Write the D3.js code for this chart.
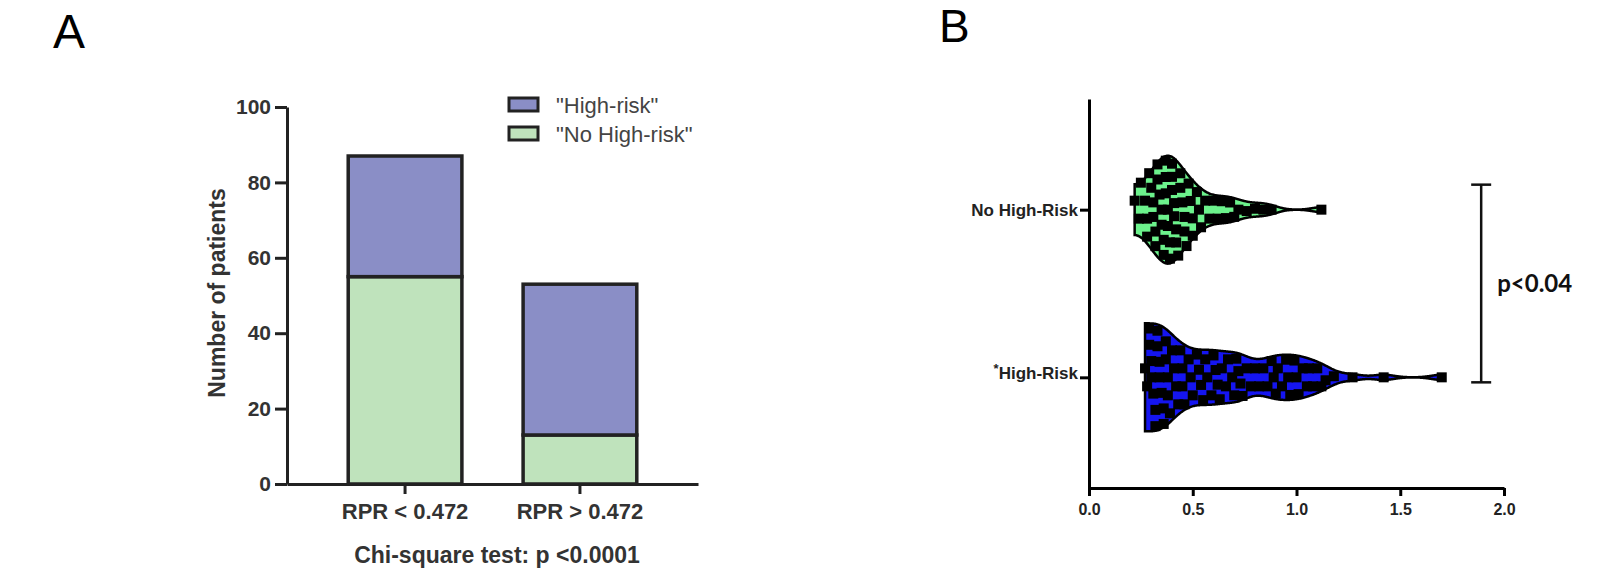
<!DOCTYPE html>
<html>
<head>
<meta charset="utf-8">
<script src="https://cdn.jsdelivr.net/npm/d3@7"></script>
<style>
  body { margin: 0; background: #fff; }
  svg { display: block; font-family: "Liberation Sans", Arial, sans-serif; }
</style>
</head>
<body>
<svg id="plot"></svg>
<script>
// Panel A: stacked bars
const groupsA = ["RPR < 0.472", "RPR > 0.472"];
const noHighRiskA = [55, 13];
const highRiskA = [32, 40];
const yTicksA = [0, 20, 40, 60, 80, 100];

// Panel B: violin + points (RPR values)
const categoriesB = ["No High-Risk", "High-Risk"];
const noHighRiskRPR = [0.22, 0.24, 0.25,
  0.27, 0.28, 0.28, 0.29, 0.30,
  0.31, 0.31, 0.32, 0.32, 0.33, 0.33, 0.34,
  0.35, 0.35, 0.36, 0.36, 0.37, 0.37, 0.37, 0.38, 0.38,
  0.39, 0.39, 0.40, 0.40, 0.40, 0.41, 0.41, 0.42, 0.42,
  0.43, 0.44, 0.44, 0.45, 0.46, 0.46,
  0.47, 0.48, 0.49, 0.50, 0.50,
  0.52, 0.53, 0.54, 0.56, 0.58, 0.60, 0.62, 0.64, 0.66, 0.68, 0.70,
  0.72, 0.76, 0.80, 0.84, 0.88, 1.12];
const highRiskRPR = [0.27, 0.28, 0.29, 0.29, 0.30, 0.30,
  0.31, 0.32, 0.32, 0.33, 0.33, 0.34, 0.34, 0.35,
  0.36, 0.36, 0.37, 0.37, 0.38, 0.38, 0.39, 0.40,
  0.41, 0.42, 0.43, 0.44, 0.45, 0.45,
  0.46, 0.48, 0.49, 0.50,
  0.52, 0.53, 0.54, 0.55,
  0.56, 0.57, 0.59, 0.60,
  0.61, 0.62, 0.63, 0.64,
  0.66, 0.67, 0.69, 0.70,
  0.71, 0.72, 0.73, 0.74,
  0.76, 0.78, 0.80, 0.82, 0.84,
  0.86, 0.88, 0.89, 0.90,
  0.91, 0.93, 0.95,
  0.96, 0.97, 0.99, 1.00,
  1.01, 1.03, 1.05,
  1.06, 1.08, 1.10,
  1.12, 1.14, 1.18, 1.27, 1.42, 1.70];
const xTicksB = [0, 0.5, 1.0, 1.5, 2.0];

const svg = d3.select("#plot").attr("width", 1613).attr("height", 579);

// panel letters
svg.append("text").attr("x", 53).attr("y", 48)
  .style("font-size", "48px")
  .text("A");
svg.append("text").attr("x", 939).attr("y", 42)
  .style("font-size", "46px")
  .text("B");

// ---------- Panel A ----------
const xA = d3.scaleBand().domain(groupsA).range([287, 698]).padding(0.35);
const yA = d3.scaleLinear().domain([0, 100]).range([484, 107]);

const rowsA = groupsA.map((g, i) => ({ group: g, noHigh: noHighRiskA[i], high: highRiskA[i] }));
const stackA = d3.stack().keys(["noHigh", "high"])(rowsA);
const colorA = { noHigh: "#bfe3bc", high: "#8a8ec6" };

svg.append("g")
  .selectAll("g")
  .data(stackA)
  .enter().append("g")
    .attr("fill", d => colorA[d.key])
  .selectAll("rect")
  .data(d => d)
  .enter().append("rect")
    .attr("x", d => xA(d.data.group))
    .attr("y", d => yA(d[1]))
    .attr("width", xA.bandwidth())
    .attr("height", d => yA(d[0]) - yA(d[1]))
    .attr("stroke", "#222")
    .attr("stroke-width", 3.5);

const gyA = svg.append("g")
  .attr("transform", "translate(287,0)")
  .call(d3.axisLeft(yA).tickValues(yTicksA).tickSize(12).tickSizeOuter(0).tickPadding(4));
const gxA = svg.append("g")
  .attr("transform", "translate(0,484)")
  .call(d3.axisBottom(xA).tickSize(10).tickSizeOuter(0).tickPadding(9));
[gyA, gxA].forEach(g => {
  g.selectAll("path, line").attr("stroke", "#222").attr("stroke-width", 3);
  g.selectAll("text").attr("fill", "#333").style("font-weight", "bold")
    .style("font-family", "'Liberation Sans', Arial, sans-serif");
});
gyA.selectAll("text").style("font-size", "21px");
gxA.selectAll("text").style("font-size", "22px");

svg.append("text")
  .attr("transform", "translate(225,293) rotate(-90)")
  .style("text-anchor", "middle").style("font-weight", "bold").style("font-size", "23px")
  .attr("fill", "#333")
  .text("Number of patients");

svg.append("text")
  .attr("x", 497).attr("y", 563)
  .style("text-anchor", "middle").style("font-weight", "bold").style("font-size", "23px")
  .attr("fill", "#333")
  .text("Chi-square test: p <0.0001");

// legend
const legendA = svg.selectAll(".legend")
  .data([["high", "\"High-risk\""], ["noHigh", "\"No High-risk\""]])
  .enter().append("g")
    .attr("class", "legend")
    .attr("transform", (d, i) => "translate(509," + (98 + i * 29) + ")");
legendA.append("rect")
  .attr("width", 29).attr("height", 13)
  .attr("fill", d => colorA[d[0]])
  .attr("stroke", "#222").attr("stroke-width", 3);
legendA.append("text")
  .attr("x", 47).attr("y", 7).attr("dy", ".35em")
  .style("font-size", "22px").attr("fill", "#444")
  .text(d => d[1]);

// ---------- Panel B ----------
const xB = d3.scaleLinear().domain([0, 2]).range([1089, 1504]);
const yB = d3.scalePoint().domain(categoriesB).range([99, 488]).padding(0.66);

const gauss = u => Math.exp(-0.5 * u * u) / Math.sqrt(2 * Math.PI);
// kernel density, reflected at the lower bound, cut at min and max
function kde(values, h) {
  const lo = d3.min(values), hi = d3.max(values);
  const grid = d3.range(lo, hi, 0.004).concat([hi]);
  return grid.map(x => [x,
    d3.mean(values, v => gauss((x - v) / h) + gauss((x - (2 * lo - v)) / h)) / h]);
}

const seriesB = [
  { cat: "No High-Risk", values: noHighRiskRPR, fill: "#6cf28c", bw: 0.045 },
  { cat: "High-Risk", values: highRiskRPR, fill: "#1515f0", bw: 0.05 }
];

const maxHalf = 54;
seriesB.forEach(s => {
  const cy = yB(s.cat);
  const dens = kde(s.values, s.bw);
  const dmax = d3.max(dens, d => d[1]);
  const half = d3.scaleLinear().domain([0, dmax]).range([0, maxHalf]);
  const widthAt = v => {
    const i = d3.bisector(d => d[0]).center(dens, v);
    return half(dens[i][1]);
  };

  svg.append("path")
    .datum(dens)
    .attr("fill", s.fill)
    .attr("stroke", "#000")
    .attr("stroke-width", 2.5)
    .attr("d", d3.area()
      .curve(d3.curveBasis)
      .x(d => xB(d[0]))
      .y0(d => cy - half(d[1]))
      .y1(d => cy + half(d[1])));

  // spread points vertically inside the violin, column by column
  const bins = d3.groups(s.values, v => Math.round(xB(v) / 8));
  const pts = [];
  bins.forEach(([k, vs], bi) => {
    const n = vs.length;
    const w = Math.max(0, widthAt(d3.mean(vs)) - 5);
    if (n === 1) {
      pts.push({ v: vs[0], y: cy + ((bi % 3) - 1) * w * 0.45 });
    } else {
      const spread = Math.min(w, (n - 1) * 9);
      vs.forEach((v, i) => pts.push({ v: v, y: cy - spread + 2 * spread * i / (n - 1) }));
    }
  });

  svg.append("g")
    .selectAll("rect")
    .data(pts)
    .enter().append("rect")
      .attr("x", d => xB(d.v) - 5)
      .attr("y", d => d.y - 5)
      .attr("width", 10)
      .attr("height", 10)
      .attr("fill", "#000");
});

const gyB = svg.append("g")
  .attr("transform", "translate(1089,0)")
  .call(d3.axisLeft(yB).tickSize(9).tickSizeOuter(0).tickPadding(2));
const gxB = svg.append("g")
  .attr("transform", "translate(0,488)")
  .call(d3.axisBottom(xB).tickValues(xTicksB).tickFormat(d3.format(".1f"))
    .tickSize(8).tickSizeOuter(0).tickPadding(8));
[gyB, gxB].forEach(g => {
  g.selectAll("path, line").attr("stroke", "#000").attr("stroke-width", 3);
  g.selectAll("text").attr("fill", "#222").style("font-weight", "bold")
    .style("font-family", "'Liberation Sans', Arial, sans-serif");
});
gxB.selectAll("text").style("font-size", "16px");
gyB.selectAll("text").style("font-size", "17px")
  .each(function(d) {
    const t = d3.select(this);
    t.text(null);
    if (d === "High-Risk") {
      t.append("tspan").attr("dy", "-0.35em").style("font-size", "13px").text("*");
      t.append("tspan").attr("dy", "0.35em").text(d);
    } else {
      t.text(d);
    }
  });

// significance bracket
const bx = xB(1.89);
const bTop = yB("No High-Risk") - 25, bBot = yB("High-Risk") + 5;
const bracket = svg.append("g").attr("stroke", "#111").attr("stroke-width", 2.5);
bracket.append("line").attr("x1", bx).attr("x2", bx).attr("y1", bTop).attr("y2", bBot);
bracket.append("line").attr("x1", bx - 10).attr("x2", bx + 10).attr("y1", bTop).attr("y2", bTop);
bracket.append("line").attr("x1", bx - 10).attr("x2", bx + 10).attr("y1", bBot).attr("y2", bBot);
svg.append("text")
  .attr("x", bx + 16).attr("y", (bTop + bBot) / 2).attr("dy", ".35em")
  .style("font-family", "Lato, 'Open Sans', sans-serif")
  .style("font-weight", "bold").style("font-size", "24px")
  .attr("fill", "#111")
  .text("p<0.04");
</script>
</body>
</html>
